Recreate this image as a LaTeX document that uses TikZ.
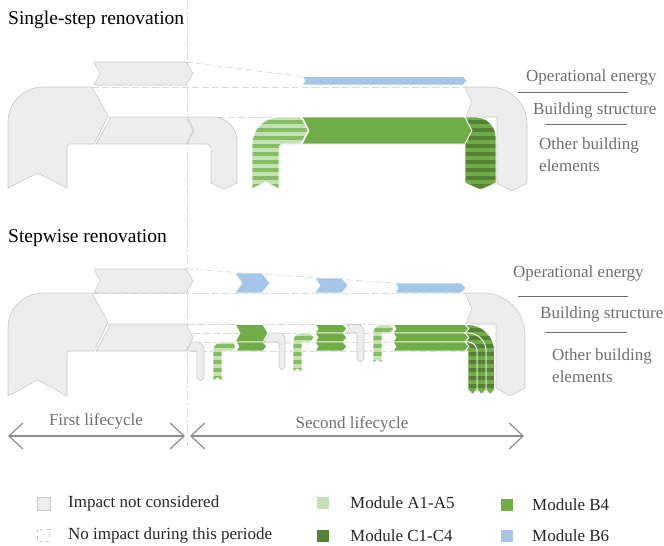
\documentclass[tikz,border=0pt]{standalone}
\usepackage{fontspec}
\setmainfont{Liberation Serif}
\usetikzlibrary{patterns.meta,arrows.meta}
\definecolor{gfill}{HTML}{EDEDED}
\definecolor{gline}{HTML}{C9C9C9}
\definecolor{dline}{HTML}{D9D9D9}
\definecolor{bsix}{HTML}{A3C6E9}
\definecolor{bfour}{HTML}{70AD47}
\definecolor{aone}{HTML}{C5E0B4}
\definecolor{astripe}{HTML}{86BC63}
\definecolor{cone}{HTML}{548235}
\definecolor{txtgray}{HTML}{6E6E6E}
\definecolor{arrgray}{HTML}{8C8C8C}
\tikzset{
 gshape/.style={fill=gfill, draw=gline, line width=0.6pt, line join=round},
 bshape/.style={fill=bfour, draw=white, line width=0.8pt},
 sixshape/.style={fill=bsix, draw=white, line width=0.6pt},
 ashape/.style={fill=aone, postaction={pattern={Lines[angle=0,distance=8pt,line width=3.6pt]}, pattern color=astripe}, postaction={draw=white,line width=0.8pt}},
 cshape/.style={fill=bfour, postaction={pattern={Lines[angle=0,distance=8pt,line width=3.6pt]}, pattern color=cone}, postaction={draw=white,line width=0.8pt}},
 noimp/.style={draw=dline, line width=0.7pt, dash pattern=on 7pt off 3pt},
 divider/.style={draw=dline, line width=0.7pt, dash pattern=on 9pt off 3pt on 2pt off 3pt},
 lbl/.style={font=\fontsize{17}{19}\selectfont, text=txtgray, inner sep=0pt, anchor=west},
 ttl/.style={font=\fontsize{19.5}{22}\selectfont, text=black, inner sep=0pt, anchor=west},
 lgd/.style={font=\fontsize{17}{19}\selectfont, text=black!85, inner sep=0pt, anchor=west},
 sepline/.style={draw=txtgray, line width=1pt},
 lcarrow/.style={draw=arrgray, line width=1.2pt, {Straight Barb[length=14pt,width=26pt]}-{Straight Barb[length=14pt,width=26pt]}},
}
\begin{document}
\begin{tikzpicture}[x=1pt,y=-1pt]
\useasboundingbox (0,0) rectangle (664,546);

% ---------- divider ----------
\coordinate (dtop) at (187,0);
\coordinate (dbot) at (187,446);
\draw[divider] (dtop) -- (dbot);

% ---------- titles ----------
\node[ttl] (t1) at (8,20) {Single-step renovation};
\node[ttl] (t2) at (8,238) {Stepwise renovation};

% ================= SINGLE-STEP =================
\draw[noimp] (186,62) -- (302,76.5);
\draw[noimp] (92,87) -- (466,87);
\draw[noimp] (108,117) -- (466,117);

\path[gshape] (94,62) -- (186,62) -- (193,73.5) -- (186,85) -- (94,85) -- (100,73.5) -- cycle;
\path[gshape] (8,188) -- (8,122) .. controls (8,102.7) and (23.7,87) .. (43,87) -- (92,87) -- (108,116) -- (94,144) -- (70,144) .. controls (68.3,144) and (67,145.3) .. (67,147) -- (67,188) -- (37.5,173) -- cycle;
\path[gshape] (111,117) -- (186,117) -- (193,130.5) -- (186,144) -- (96,144) -- cycle;
\path[gshape] (187.5,117) -- (213,117) .. controls (226.3,117) and (237,127.7) .. (237,141) -- (237,183) -- (224,189) -- (211,183) -- (211,148) .. controls (211,145.8) and (209.2,144) .. (207,144) -- (187.5,144) -- (194,130.5) -- cycle;
\path[gshape] (465,87) -- (490,87) .. controls (510.4,87) and (527,103.6) .. (527,124) -- (527,183) -- (512,191) -- (497,183) -- (497,117) -- (466,117) -- (472,102) -- cycle;
\path[sixshape] (302,76.5) -- (463,76.5) -- (467,80.75) -- (463,85) -- (302,85) -- (305,80.75) -- cycle;
\path[ashape] (252,189) -- (252,144) .. controls (252,129.1) and (264.1,117) .. (279,117) -- (301,117) -- (308,130.5) -- (301,144) -- (283,144) .. controls (280.8,144) and (279,145.8) .. (279,148) -- (279,189) -- (265.5,182) -- cycle;
\path[bshape] (302,117) -- (465,117) -- (472,130.5) -- (465,144) -- (302,144) -- (309,130.5) -- cycle;
\path[cshape] (465,117) -- (476,117) .. controls (487,117) and (496,126) .. (496,137) -- (496,183) -- (480.5,190) -- (465,183) -- (465,144) -- (472,130.5) -- cycle;

\node[lbl] (l1a) at (526,77) {Operational energy};
\coordinate (s1a) at (518,92.5); \coordinate (s1b) at (628,92.5);
\draw[sepline] (s1a) -- (s1b);
\node[lbl] (l1b) at (533,110) {Building structure};
\coordinate (s2a) at (545,124.5); \coordinate (s2b) at (627,124.5);
\draw[sepline] (s2a) -- (s2b);
\node[lbl] (l1c) at (539,145) {Other building};
\node[lbl] (l1d) at (539,166) {elements};

% ================= STEPWISE =================
\draw[noimp] (186,269) -- (395,283);
\draw[noimp] (92,293) -- (466,293);
\draw[noimp] (108,324) -- (466,324);
\draw[noimp] (193,333) -- (465,333);
\draw[noimp] (193,342) -- (465,342);
\draw[noimp] (190,351) -- (465,351);

\path[gshape] (94,269) -- (186,269) -- (193,281) -- (186,293) -- (94,293) -- (100,281) -- cycle;
\path[gshape] (8,396) -- (8,328) .. controls (8,308.7) and (23.7,293) .. (43,293) -- (92,293) -- (108,322.5) -- (94,351) -- (70,351) .. controls (68.3,351) and (67,352.3) .. (67,354) -- (67,396) -- (37.5,380) -- cycle;
\path[gshape] (111,324) -- (186,324) -- (193,337.5) -- (186,351) -- (96,351) -- cycle;

\path[gshape] (465,293) -- (483,293) .. controls (506.2,293) and (525,311.8) .. (525,335) -- (525,388) -- (510,396) -- (496,388) -- (496,324) -- (466,324) -- (472,308.5) -- cycle;

% step 1
\path[gshape] (191,342) -- (197,342) .. controls (200.9,342) and (204,345.1) .. (204,349) -- (204,378) -- (200.5,381) -- (197,378) -- (197,352) .. controls (197,351.4) and (196.6,351) .. (196,351) -- (187.5,351) -- cycle;
\path[ashape] (213,381) -- (213,350) .. controls (213,345.6) and (216.6,342) .. (221,342) -- (233,342) -- (236,346.5) -- (233,351) -- (223,351) .. controls (222.4,351) and (222,351.4) .. (222,352) -- (222,381) -- (217.5,378) -- cycle;
\path[bshape] (235,324.5) -- (263,324.5) -- (268,333) -- (263,342) -- (235,342) -- (240,333) -- cycle;
\path[bshape] (236,342) -- (263,342) -- (267,346.5) -- (263,351) -- (236,351) -- (239,346.5) -- cycle;
\path[sixshape] (235,273) -- (262,273) -- (270,283) -- (262,293) -- (235,293) -- (242,283) -- cycle;

% step 2
\path[gshape] (269,333) -- (279,333) .. controls (282.3,333) and (285,335.7) .. (285,339) -- (285,367) -- (282,370) -- (279,367) -- (279,343) .. controls (279,342.4) and (278.6,342) .. (278,342) -- (264,342) -- cycle;
\path[ashape] (293,372) -- (293,341) .. controls (293,336.6) and (296.6,333) .. (301,333) -- (311,333) -- (314,337.5) -- (311,342) -- (303,342) .. controls (302.4,342) and (302,342.4) .. (302,343) -- (302,372) -- (297.5,369) -- cycle;
\path[bshape] (315,324.5) -- (343,324.5) -- (347,328.75) -- (343,333) -- (315,333) -- (318,328.75) -- cycle;
\path[bshape] (315,333) -- (343,333) -- (347,337.5) -- (343,342) -- (315,342) -- (318,337.5) -- cycle;
\path[bshape] (315,342) -- (343,342) -- (347,346.5) -- (343,351) -- (315,351) -- (318,346.5) -- cycle;
\path[sixshape] (315,278) -- (342,278) -- (348,285.5) -- (342,293) -- (315,293) -- (320,285.5) -- cycle;

% step 3
\path[gshape] (347,324.5) -- (357,324.5) .. controls (360.6,324.5) and (364,327.4) .. (364,331) -- (364,359) -- (360.5,362) -- (357,359) -- (357,334) .. controls (357,333.4) and (356.6,333) .. (356,333) -- (347,333) -- (350,328.75) -- cycle;
\path[ashape] (373,363) -- (373,332.5) .. controls (373,328.1) and (376.6,324.5) .. (381,324.5) -- (390,324.5) -- (394,328.75) -- (390,333) -- (383,333) .. controls (382.4,333) and (382,333.4) .. (382,334) -- (382,363) -- (377.5,360) -- cycle;
\path[bshape] (393,324.5) -- (465,324.5) -- (469,328.75) -- (465,333) -- (393,333) -- (396,328.75) -- cycle;
\path[bshape] (393,333) -- (465,333) -- (469,337.5) -- (465,342) -- (393,342) -- (396,337.5) -- cycle;
\path[bshape] (393,342) -- (465,342) -- (469,346.5) -- (465,351) -- (393,351) -- (396,346.5) -- cycle;
\path[sixshape] (395,283) -- (461,283) -- (466,288) -- (461,293) -- (395,293) -- (398,288) -- cycle;

% C1-C4 bends
\path[cshape] (465,324.5) -- (468,324.5) .. controls (482.64,324.5) and (494.5,336.36) .. (494.5,351) -- (494.5,390) -- (490.25,394) -- (486,390) -- (486,351) .. controls (486,341.06) and (477.94,333) .. (468,333) -- (465,333) -- (469,328.75) -- cycle;
\path[cshape] (465,333) -- (468,333) .. controls (477.94,333) and (486,341.06) .. (486,351) -- (486,390) -- (481.5,394) -- (477,390) -- (477,351) .. controls (477,346.03) and (472.97,342) .. (468,342) -- (465,342) -- (469,337.5) -- cycle;
\path[cshape] (465,342) -- (468,342) .. controls (472.97,342) and (477,346.03) .. (477,351) -- (477,390) -- (472.5,394) -- (468,390) -- (468,351) -- (465,351) -- (469,346.5) -- cycle;

\node[lbl] (l2a) at (513,273) {Operational energy};
\coordinate (s3a) at (518,296); \coordinate (s3b) at (628,296);
\draw[sepline] (s3a) -- (s3b);
\node[lbl] (l2b) at (540,314) {Building structure};
\coordinate (s4a) at (545,332); \coordinate (s4b) at (627,332);
\draw[sepline] (s4a) -- (s4b);
\node[lbl] (l2c) at (552,356) {Other building};
\node[lbl] (l2d) at (552,377) {elements};

% ================= LIFECYCLES =================
\node[lbl, anchor=center] (lc1) at (96,421) {First lifecycle};
\node[lbl, anchor=center] (lc2) at (352,424) {Second lifecycle};
\coordinate (fa) at (8,436); \coordinate (fb) at (185,436);
\coordinate (sa) at (190,436); \coordinate (sb) at (524,436);
\draw[lcarrow] (fa) -- (fb);
\draw[lcarrow] (sa) -- (sb);

% ================= LEGEND =================
\path[gshape] (37,497) rectangle (50,510);
\node[lgd] (g1) at (68,503) {Impact not considered};
\draw[draw=gline, line width=0.7pt, dash pattern=on 3pt off 4pt] (37,529) rectangle (49,541);
\node[lgd] (g2) at (68,535) {No impact during this periode};
\fill[aone] (317,497) rectangle (329,509);
\node[lgd] (g3) at (350,503) {Module A1-A5};
\fill[cone] (317,530) rectangle (329,542);
\node[lgd] (g4) at (350,536) {Module C1-C4};
\fill[bfour] (501,499) rectangle (513,511);
\node[lgd] (g5) at (532,505) {Module B4};
\fill[bsix] (501,530) rectangle (513,542);
\node[lgd] (g6) at (532,536) {Module B6};
\end{tikzpicture}
\end{document}
